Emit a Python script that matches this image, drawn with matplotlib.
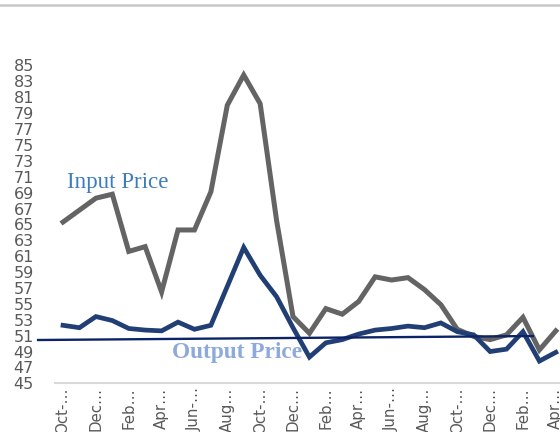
import numpy as np
import matplotlib
matplotlib.use('Agg')
import matplotlib.pyplot as plt
from matplotlib.lines import Line2D

# monthly index values, Oct (year 1) .. Apr (year 3)
input_price = [65.3, 66.8, 68.3, 68.8, 61.6, 62.2, 56.5, 64.3, 64.3, 69.1,
               80.0, 83.8, 80.2, 65.5, 53.4, 51.3, 54.4, 53.7, 55.3, 58.4,
               58.0, 58.3, 56.8, 54.9, 51.8, 50.9, 50.5, 51.1, 53.3, 49.2, 51.6]
output_price = [52.3, 52.0, 53.4, 52.9, 51.9, 51.7, 51.6, 52.7, 51.8, 52.3,
                57.2, 62.1, 58.6, 55.9, 52.0, 48.3, 50.1, 50.5, 51.2, 51.7,
                51.9, 52.2, 52.0, 52.6, 51.5, 51.1, 49.0, 49.3, 51.5, 47.8, 48.9]
month_labels = ['Oct-…', 'Dec…', 'Feb…', 'Apr…', 'Jun-…', 'Aug…', 'Oct-…', 'Dec…',
                'Feb…', 'Apr…', 'Jun-…', 'Aug…', 'Oct-…', 'Dec…', 'Feb…', 'Apr…']
ref_line_x = [-1.52, 28.6]
ref_line_y = [50.45, 50.95]

fig = plt.figure(figsize=(5.6, 4.32), dpi=100)
ax = fig.add_axes([0.0979, 0.1127, 0.9093, 0.7357])

x = np.arange(len(input_price))
ax.plot(x, input_price, color='#646464', lw=3.6, solid_joinstyle='miter', zorder=3)
ax.plot(x, output_price, color='#213f75', lw=3.4, solid_joinstyle='miter', zorder=4)
ax.plot(ref_line_x, ref_line_y, color='#0c2466', lw=1.7, zorder=5, clip_on=False)

ax.set_xlim(-0.5, 30.5)
ax.set_ylim(45, 85)
ax.set_yticks(np.arange(45, 86, 2))
ax.set_xticks(x[::2])
ax.set_xticklabels(month_labels, rotation=90, va='top', ha='center')
for lab in ax.get_yticklabels():
    lab.set_family('DejaVu Sans')
    lab.set_fontsize(11.5)
    lab.set_color('#595959')
for lab in ax.get_xticklabels():
    lab.set_family('DejaVu Sans')
    lab.set_fontsize(10.8)
    lab.set_color('#595959')
ax.tick_params(axis='y', length=0, pad=15)
ax.tick_params(axis='x', length=0, pad=3)
for s in ['left', 'top', 'right']:
    ax.spines[s].set_visible(False)
ax.spines['bottom'].set_color('#d9d9d9')
ax.spines['bottom'].set_linewidth(1.5)

ax.text(0.24, 69.6, 'Input Price', family='Liberation Serif', fontsize=16.6,
        color='#3c7cbf', va='baseline', ha='left')
ax.text(6.63, 48.15, 'Output Price', family='Liberation Serif', fontsize=16.8,
        fontweight='bold', color='#8eaadc', va='baseline', ha='left', zorder=2)

fig.add_artist(Line2D([0, 1], [1 - 5 / 432, 1 - 5 / 432], color='#c8c8c8', lw=1.8))

fig.savefig('out.png', dpi=100)
